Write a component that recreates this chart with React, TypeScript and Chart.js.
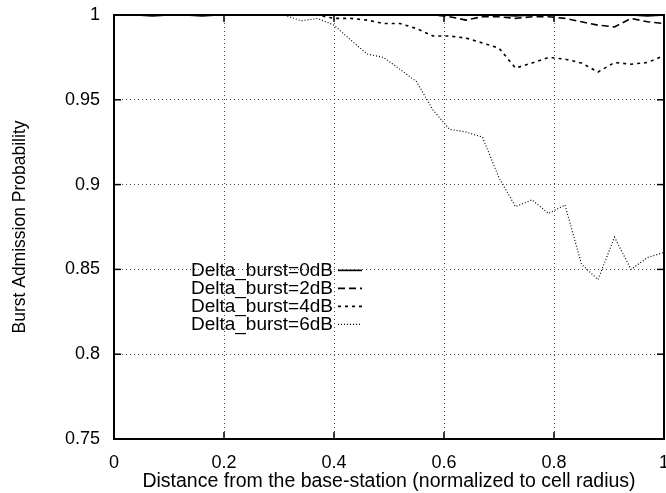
import React, { useEffect, useRef } from "react";
import { Chart, registerables } from "chart.js";

Chart.register(...registerables);

// Distance from base station (normalized)
const distance = [
  0.01, 0.04, 0.07, 0.10, 0.13, 0.16, 0.19, 0.22, 0.25, 0.28, 0.31, 0.34,
  0.37, 0.40, 0.43, 0.46, 0.49, 0.52, 0.55, 0.58, 0.61, 0.64, 0.67, 0.70,
  0.73, 0.76, 0.79, 0.82, 0.85, 0.88, 0.91, 0.94, 0.97, 1.00,
];

const burst0dB = [
  1, 1, 0.9995, 1, 1, 0.9995, 1, 1, 1, 1, 1, 1,
  1, 1, 1, 1, 1, 1, 1, 1, 1, 1, 1, 1,
  0.9995, 1, 1, 1, 1, 1, 1, 1, 0.9995, 1,
];

const burst2dB = [
  1, 1, 1, 1, 1, 1, 1, 1, 1, 1, 1, 1,
  1, 1, 1, 1, 1, 1, 1, 1, 0.999, 0.997, 0.999, 0.999,
  0.998, 0.999, 0.999, 0.998, 0.996, 0.994, 0.993, 0.998, 0.996, 0.995,
];

const burst4dB = [
  1, 1, 1, 1, 1, 1, 1, 1, 1, 1, 1, 1,
  1, 0.998, 0.998, 0.997, 0.995, 0.995, 0.992, 0.9876, 0.9876, 0.9864, 0.9835, 0.9805,
  0.9687, 0.9717, 0.975, 0.974, 0.9717, 0.9664, 0.972, 0.971, 0.972, 0.976,
];

const burst6dB = [
  1, 1, 1, 1, 1, 1, 1, 1, 1, 1, 1, 0.9966,
  0.998, 0.994, 0.9854, 0.977, 0.975, 0.968, 0.9607, 0.944, 0.9326, 0.931, 0.928, 0.904,
  0.887, 0.891, 0.883, 0.888, 0.853, 0.844, 0.869, 0.85, 0.857, 0.86,
];

const seriesLabels = [
  "Delta_burst=0dB",
  "Delta_burst=2dB",
  "Delta_burst=4dB",
  "Delta_burst=6dB",
];

const xTickValues = [0, 0.2, 0.4, 0.6, 0.8, 1];
const yTickValues = [0.75, 0.8, 0.85, 0.9, 0.95, 1];

const xTitle = "Distance from the base-station (normalized to cell radius)";
const yTitle = "Burst Admission Probability";

const FONT = "'Liberation Sans', Arial, Helvetica, sans-serif";

const styles = [
  { dash: [] as number[], width: 1.6 },
  { dash: [7, 4], width: 1.6 },
  { dash: [3, 4], width: 1.6 },
  { dash: [1, 2], width: 1.2 },
];

const framePlugin = {
  id: "frame",
  afterDatasetsDraw(chart: any) {
    const { ctx, chartArea } = chart;
    const { left, right, top, bottom } = chartArea;
    const xs = chart.scales.x;
    const ys = chart.scales.y;
    ctx.save();
    ctx.setLineDash([]);
    ctx.strokeStyle = "#000";
    ctx.lineWidth = 2;
    ctx.strokeRect(left, top, right - left, bottom - top);
    ctx.lineWidth = 1.5;
    const tl = 7;
    const line = (x1: number, y1: number, x2: number, y2: number) => {
      ctx.beginPath();
      ctx.moveTo(x1, y1);
      ctx.lineTo(x2, y2);
      ctx.stroke();
    };
    for (const v of xTickValues) {
      const px = xs.getPixelForValue(v);
      line(px, bottom, px, bottom - tl);
      line(px, top, px, top + tl);
    }
    for (const v of yTickValues) {
      const py = ys.getPixelForValue(v);
      line(left, py, left + tl, py);
      line(right, py, right - tl, py);
    }
    // legend
    const textRight = xs.getPixelForValue(0.4) - 1;
    const y0 = ys.getPixelForValue(0.85) + 1;
    ctx.font = `19px ${FONT}`;
    ctx.fillStyle = "#000";
    ctx.textAlign = "right";
    ctx.textBaseline = "middle";
    seriesLabels.forEach((lab, i) => {
      const yy = y0 + i * 18;
      ctx.fillText(lab, textRight, yy);
      ctx.setLineDash(styles[i].dash);
      ctx.lineWidth = styles[i].width;
      line(textRight + 5, yy, textRight + 29, yy);
    });
    ctx.restore();
  },
};

export default function App() {
  const ref = useRef<HTMLCanvasElement | null>(null);
  useEffect(() => {
    if (!ref.current) return;
    const seriesValues = [burst0dB, burst2dB, burst4dB, burst6dB];
    const chart = new Chart(ref.current, {
      type: "line",
      data: {
        datasets: seriesValues.map((vals, i) => ({
          label: seriesLabels[i],
          data: distance.map((d, j) => ({ x: d, y: vals[j] })),
          borderColor: "#000",
          borderWidth: styles[i].width,
          borderDash: styles[i].dash,
          pointRadius: 0,
          tension: 0,
          fill: false,
        })),
      },
      options: {
        animation: false,
        responsive: false,
        events: [],
        layout: { padding: { top: 15, right: 2, left: 0, bottom: 0 } },
        plugins: {
          legend: { display: false },
          tooltip: { enabled: false },
        },
        scales: {
          x: {
            type: "linear",
            min: 0,
            max: 1,
            afterFit: (s: any) => {
              s.height = 54;
              s.paddingLeft = 0;
              s.paddingRight = 0;
            },
            afterBuildTicks: (s: any) => {
              s.ticks = xTickValues.map((v) => ({ value: v }));
            },
            ticks: {
              color: "#000",
              font: { family: FONT, size: 18 },
              padding: 13,
              maxRotation: 0,
              autoSkip: false,
              callback: (v: any) => String(Number(Number(v).toFixed(2))),
            },
            grid: { color: "rgba(0,0,0,0.7)", lineWidth: 1, drawTicks: false },
            border: { display: false, dash: [1, 3] },
            title: {
              display: true,
              text: xTitle,
              color: "#000",
              font: { family: FONT, size: 19.5 },
              padding: { top: 0, bottom: 0 },
            },
          },
          y: {
            type: "linear",
            min: 0.75,
            max: 1,
            afterFit: (s: any) => {
              s.width = 114;
              s.paddingTop = 0;
              s.paddingBottom = 0;
            },
            afterBuildTicks: (s: any) => {
              s.ticks = yTickValues.map((v) => ({ value: v }));
            },
            ticks: {
              color: "#000",
              font: { family: FONT, size: 18 },
              padding: 14,
              autoSkip: false,
              callback: (v: any) => String(Number(Number(v).toFixed(2))),
            },
            grid: { color: "rgba(0,0,0,0.7)", lineWidth: 1, drawTicks: false },
            border: { display: false, dash: [1, 3] },
            title: {
              display: true,
              text: yTitle,
              color: "#000",
              font: { family: FONT, size: 17.5 },
              padding: { top: 10, bottom: 0 },
            },
          },
        },
      },
      plugins: [framePlugin],
    });
    return () => chart.destroy();
  }, []);
  return (
    <div style={{ position: "fixed", left: 0, top: 0, width: 666, height: 493, background: "#fff" }}>
      <canvas ref={ref} width={666} height={493} style={{ width: 666, height: 493 }} />
    </div>
  );
}
